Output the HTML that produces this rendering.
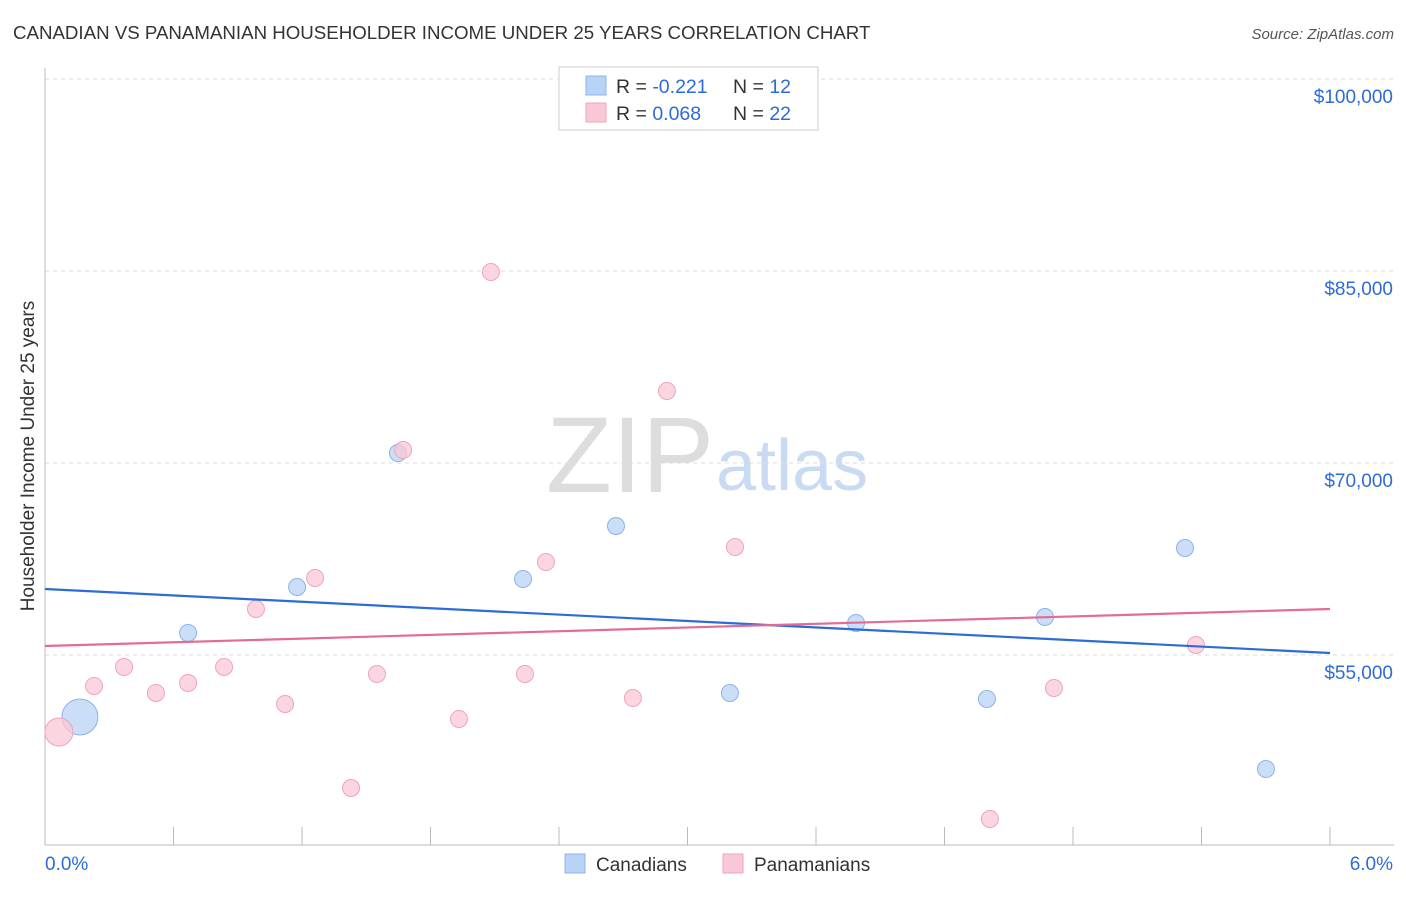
<!DOCTYPE html>
<html><head><meta charset="utf-8"><style>
body{margin:0;background:#fff;font-family:"Liberation Sans",sans-serif}
svg text{font-family:"Liberation Sans",sans-serif}
</style></head><body>
<svg width="1406" height="892" xmlns="http://www.w3.org/2000/svg" id="chart">
<text x="13" y="39" font-size="18.7" fill="#333">CANADIAN VS PANAMANIAN HOUSEHOLDER INCOME UNDER 25 YEARS CORRELATION CHART</text>
<text x="1394" y="39" font-size="15" fill="#555" text-anchor="end" font-style="italic">Source: ZipAtlas.com</text>
<text x="714" y="492" font-size="108" fill="#ddd" text-anchor="end" font-family="Liberation Serif">ZIP</text>
<text x="716" y="490" font-size="72" fill="#c9daf3">atlas</text>
<g id="grid"></g><g id="axes"></g><g id="marks"></g>
<text transform="translate(34,456) rotate(-90)" font-size="19" fill="#333" text-anchor="middle">Householder Income Under 25 years</text>
<g>
<rect x="559" y="67" width="259" height="63" fill="#fff" stroke="#ccc"/>
<rect x="586" y="76" width="20" height="19" fill="#b8d3f5" stroke="#8cb4e8"/>
<rect x="586" y="103" width="20" height="19" fill="#f9c8d6" stroke="#eea5bb"/>
<text x="616" y="93" font-size="19.5" fill="#333">R = <tspan fill="#2d6bd6">-0.221</tspan><tspan x="733">N = </tspan><tspan fill="#2d6bd6">12</tspan></text>
<text x="616" y="120" font-size="19.5" fill="#333">R = <tspan fill="#2d6bd6"> 0.068</tspan><tspan x="733">N = </tspan><tspan fill="#2d6bd6">22</tspan></text>
</g>
<g>
<rect x="565" y="854" width="20" height="19" fill="#b8d3f5" stroke="#8cb4e8"/>
<text x="596" y="871" font-size="19" fill="#333">Canadians</text>
<rect x="723" y="854" width="20" height="19" fill="#f9c8d6" stroke="#eea5bb"/>
<text x="754" y="871" font-size="19" fill="#333">Panamanians</text>
</g>
</svg>
<script>
const yTicks=[55000,70000,85000,100000];
const yTickLabels=["$55,000","$70,000","$85,000","$100,000"];
const xTickLabels=["0.0%","6.0%"];
const canX=[0.163,0.668,1.177,1.648,2.232,2.666,3.198,3.787,4.398,4.669,5.323,5.701];
const canY=[50156,56719,60313,70781,60938,65078,52031,57500,51563,57969,63359,46094];
const canR=[18,8.5,8.5,8.5,8.5,8.5,8.5,8.5,8.5,8.5,8.5,8.5];
const panX=[0.065,0.229,0.369,0.518,0.668,0.836,0.985,1.121,1.261,1.429,1.550,1.672,1.933,2.082,2.241,2.339,2.745,2.904,3.222,4.412,4.711,5.374];
const panY=[48984,52578,54063,52031,52813,54063,58594,51172,61016,44609,53516,71016,50000,84922,53516,62266,51641,75625,63438,42188,52422,55781];
const panR=[14,8.5,8.5,8.5,8.5,8.5,8.5,8.5,8.5,8.5,8.5,8.5,8.5,8.5,8.5,8.5,8.5,8.5,8.5,8.5,8.5,8.5];
const canTrend=[60156,55156];
const panTrend=[55703,58594];
const X=v=>45+v*(1330-45)/6;
const Y=v=>79+(100000-v)*192/15000;
const NS="http://www.w3.org/2000/svg";
function mk(parent,tag,attrs){const e=document.createElementNS(NS,tag);for(const k in attrs)e.setAttribute(k,attrs[k]);document.getElementById(parent).appendChild(e);return e;}
yTicks.forEach((t,i)=>{
 const l=mk('grid','line',{x1:45,x2:1394,y1:Y(t),y2:Y(t),stroke:'#ddd','stroke-dasharray':'4,4'});
 
 
 const tx=mk('grid','text',{x:1393,y:Y(t)+24,'font-size':19,fill:'#2d6bd6','text-anchor':'end'});
 tx.textContent=yTickLabels[i];
 
 
});
const ax=mk('axes','line',{x1:45,x2:45,y1:68,y2:845,stroke:'#bbb'});


const bx=mk('axes','line',{x1:45,x2:1394,y1:845,y2:845,stroke:'#bbb'});


for(let i=1;i<=10;i++){
 const t=mk('axes','line',{x1:X(i*0.6),x2:X(i*0.6),y1:827,y2:845,stroke:'#bbb'});
 
 
}
[[0,'start',45],[1,'end',1393]].forEach(([i,a,x])=>{
 const t=mk('axes','text',{x:x,y:870,'font-size':19,fill:'#2d6bd6','text-anchor':a});
 t.textContent=xTickLabels[i];
 
 
});
canX.forEach((v,i)=>{
 const c=mk('marks','circle',{cx:X(v),cy:Y(canY[i]),r:canR[i],fill:'#b8d3f5','fill-opacity':0.75,stroke:'#8cb4e8'});
 
 
});
panX.forEach((v,i)=>{
 const c=mk('marks','circle',{cx:X(v),cy:Y(panY[i]),r:panR[i],fill:'#f9c8d6','fill-opacity':0.75,stroke:'#eea5bb'});
 
 
});
const tl1=mk('marks','line',{x1:X(0),x2:X(6),y1:Y(canTrend[0]),y2:Y(canTrend[1]),stroke:'#2d6bd6','stroke-width':2.2});


const tl2=mk('marks','line',{x1:X(0),x2:X(6),y1:Y(panTrend[0]),y2:Y(panTrend[1]),stroke:'#e56b93','stroke-width':2.2});


</script>
</body></html>
